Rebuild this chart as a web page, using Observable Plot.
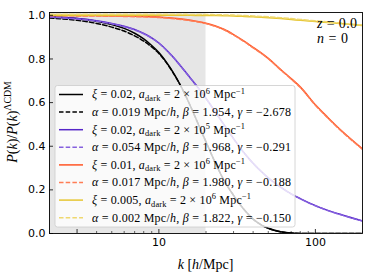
<!DOCTYPE html>
<html><head><meta charset="utf-8">
<script src="https://cdn.jsdelivr.net/npm/d3@7"></script>
<script src="https://cdn.jsdelivr.net/npm/@observablehq/plot@0.6"></script>
<style>body{margin:0;background:#fff} #chart{width:374px;height:280px}</style>
</head><body><div id="chart"></div>
<script>
// ---- data ----
const kValues = [2,3,4,5,6,7,8,9,10,12,14,16,18,20,23,26,30,35,40,45,50,60,70,80,100,120,150,200];
const blackSolid  = [0.993,0.985,0.973,0.958,0.94,0.918,0.892,0.862,0.83,0.752,0.668,0.58,0.495,0.42,0.322,0.245,0.175,0.11,0.066,0.04,0.024,0.008,0.002,0.0005,0,0,0,0];
const blackDashed = [0.988,0.977,0.963,0.946,0.928,0.906,0.882,0.855,0.825,0.75,0.667,0.58,0.495,0.42,0.322,0.245,0.175,0.11,0.066,0.04,0.024,0.008,0.002,0.0005,0,0,0,0];
const purpleSolid = [0.993,0.985,0.975,0.963,0.95,0.935,0.917,0.897,0.873,0.818,0.762,0.71,0.664,0.62,0.556,0.5,0.435,0.37,0.322,0.285,0.255,0.213,0.182,0.16,0.128,0.106,0.084,0.058];
const purpleDashed= [0.992,0.983,0.973,0.961,0.948,0.933,0.915,0.895,0.872,0.817,0.761,0.709,0.663,0.619,0.555,0.499,0.434,0.369,0.321,0.284,0.254,0.212,0.181,0.159,0.127,0.105,0.083,0.057];
const orangeSolid = [1.0,0.9995,0.999,0.998,0.997,0.996,0.995,0.994,0.992,0.988,0.983,0.977,0.971,0.964,0.951,0.936,0.912,0.882,0.853,0.828,0.803,0.752,0.71,0.672,0.59,0.532,0.465,0.388];
const orangeDashed= [0.998,0.9975,0.997,0.996,0.995,0.994,0.993,0.992,0.99,0.986,0.981,0.975,0.969,0.962,0.949,0.934,0.91,0.88,0.851,0.826,0.801,0.75,0.708,0.67,0.588,0.53,0.463,0.386];
const yellowSolid = [1.0,1.0,1.0,1.0,1.0,1.0,1.0,1.0,1.0,1.0,1.0,1.0,0.9995,0.9995,0.999,0.998,0.997,0.995,0.993,0.991,0.989,0.985,0.981,0.977,0.972,0.967,0.961,0.953];
const yellowDashed= [1.005,1.005,1.005,1.005,1.005,1.005,1.005,1.005,1.005,1.005,1.005,1.004,1.004,1.004,1.003,1.002,1.001,0.999,0.997,0.995,0.993,0.989,0.985,0.981,0.975,0.97,0.963,0.955];
const xMajorTicks = [3,10,100];
const xMinorTicks = [2,4,5,6,7,8,9,20,30,40,50,60,70,80,90,200];
const yTicks = [0,0.2,0.4,0.6,0.8,1.0];
const shadedBand = [2,20];
const legendLabels = [
 "*ξ* = 0.02, *a*_{dark} = 2 × 10^{6} Mpc^{−1}",
 "*α* = 0.019 Mpc/*h*, *β* = 1.954, *γ* = −2.678",
 "*ξ* = 0.02, *a*_{dark} = 2 × 10^{5} Mpc^{−1}",
 "*α* = 0.054 Mpc/*h*, *β* = 1.968, *γ* = −0.291",
 "*ξ* = 0.01, *a*_{dark} = 2 × 10^{6} Mpc^{−1}",
 "*α* = 0.017 Mpc/*h*, *β* = 1.980, *γ* = −0.188",
 "*ξ* = 0.005, *a*_{dark} = 2 × 10^{6} Mpc^{−1}",
 "*α* = 0.002 Mpc/*h*, *β* = 1.822, *γ* = −0.150"
];
const legendWidths = [153,199,153,199,153,199,159,199];

const series = [
 {values: blackSolid,  color:"#000000", dash:null},
 {values: blackDashed, color:"#000000", dash:"4.5,2.2"},
 {values: purpleSolid, color:"#5626c8", dash:null},
 {values: purpleDashed,color:"#8560de", dash:"4.5,2.2"},
 {values: orangeSolid, color:"#ff5424", dash:null},
 {values: orangeDashed,color:"#ff7d55", dash:"4.5,2.2"},
 {values: yellowSolid, color:"#e6c632", dash:null},
 {values: yellowDashed,color:"#efd86e", dash:"4.5,2.2"}
];

const W=374, H=280, mL=49, mR=12, mT=12, mB=47;
const yMax = 1.013;
const fw = W-mL-mR, fh = H-mT-mB;

const marks = [
  Plot.rect([shadedBand], {x1: d=>d[0], x2: d=>d[1], y1: 0, y2: yMax, fill:"#e6e6e6"}),
  ...series.map(s => Plot.line(kValues.map((k,i)=>({k, v:s.values[i]})), {
      x:"k", y:"v", stroke:s.color, strokeWidth:1.5, strokeDasharray:s.dash, curve:"monotone-x", clip:true})),
  Plot.tickX(xMajorTicks, {x:d=>d, insetTop: fh-4, stroke:"#000", strokeWidth:0.8}),
  Plot.tickX(xMinorTicks, {x:d=>d, insetTop: fh-2, stroke:"#000", strokeWidth:0.6}),
  Plot.tickY(yTicks, {y:d=>d, insetRight: fw-4, stroke:"#000", strokeWidth:0.8}),
  Plot.axisX(xMajorTicks, {tickSize:0, tickPadding:5, tickFormat:d=>String(d), label:null, fontSize:11}),
  Plot.axisY(yTicks, {tickSize:0, tickPadding:4, tickFormat:d=>d.toFixed(1), label:null, fontSize:11}),
  Plot.frame({stroke:"#000", strokeWidth:0.9})
];

const svg = Plot.plot({
  width:W, height:H, marginLeft:mL, marginRight:mR, marginTop:mT, marginBottom:mB,
  x:{type:"log", domain:[2,200], label:null},
  y:{domain:[0,yMax], label:null},
  style:{fontFamily:"'DejaVu Sans'", fontSize:"11px", color:"#000", background:"#fff"},
  marks
});
document.getElementById("chart").appendChild(svg);

// rich text helper: *italic*, _{sub}, ^{sup}
function rich(sel, s, fs){
  let italic=false, buf="", pending=0;
  const flush=()=>{ if(!buf) return; const t=sel.append("tspan").text(buf);
    if(italic) t.attr("font-style","italic");
    if(pending){ t.attr("dy", -pending); pending=0; } buf=""; };
  for(let i=0;i<s.length;i++){
    const c=s[i];
    if(c==="*"){ flush(); italic=!italic; continue; }
    if((c==="_"||c==="^") && s[i+1]==="{"){
      flush();
      const j=s.indexOf("}",i);
      const shift = c==="_" ? fs*0.22 : -fs*0.4;
      const t=sel.append("tspan").text(s.slice(i+2,j)).attr("font-size",fs*0.7).attr("dy", shift - pending);
      pending=shift; i=j; continue;
    }
    buf+=c;
  }
  flush();
}

const root = d3.select(svg);
const serif = "'Liberation Serif', 'DejaVu Serif', serif";

// legend
const lg = root.append("g").attr("font-family", serif).attr("text-anchor","start").style("white-space","pre");
lg.append("rect").attr("x",55).attr("y",85.5).attr("width",240).attr("height",141.5).attr("rx",2.5)
  .attr("fill","#fff").attr("fill-opacity",0.8).attr("stroke","#cccccc").attr("stroke-width",0.8);
legendLabels.forEach((lab,i)=>{
  const cy = 94.5 + i*17.6;
  const s = series[i];
  lg.append("line").attr("x1",59).attr("x2",83).attr("y1",cy).attr("y2",cy)
    .attr("stroke",s.color).attr("stroke-width",1.5).attr("stroke-dasharray",s.dash);
  const t = lg.append("text").attr("x",92).attr("y",cy+3.8).attr("font-size",12).attr("text-anchor","start")
    .attr("textLength",legendWidths[i]).attr("lengthAdjust","spacing");
  rich(t, lab, 12);
});

// annotations
const ann = root.append("g").attr("font-family", serif).attr("text-anchor","start").style("white-space","pre");
rich(ann.append("text").attr("x",317).attr("y",28).attr("font-size",14).attr("textLength",40).attr("lengthAdjust","spacing"), "*z* = 0.0", 14);
rich(ann.append("text").attr("x",317).attr("y",43).attr("font-size",14).attr("textLength",31).attr("lengthAdjust","spacing"), "*n* = 0", 14);

// axis labels
rich(ann.append("text").attr("x",205.5).attr("y",269).attr("font-size",14).attr("text-anchor","middle"), "*k* [*h*/Mpc]", 14);
const yl = ann.append("g").attr("transform","translate(17,122)")
  .append("g").attr("transform","rotate(-90)");
rich(yl.append("text").attr("x",0).attr("y",0).attr("font-size",14).attr("text-anchor","middle"), "*P*(*k*)/*P*(*k*)^{ΛCDM}", 14);
</script>
</body></html>
